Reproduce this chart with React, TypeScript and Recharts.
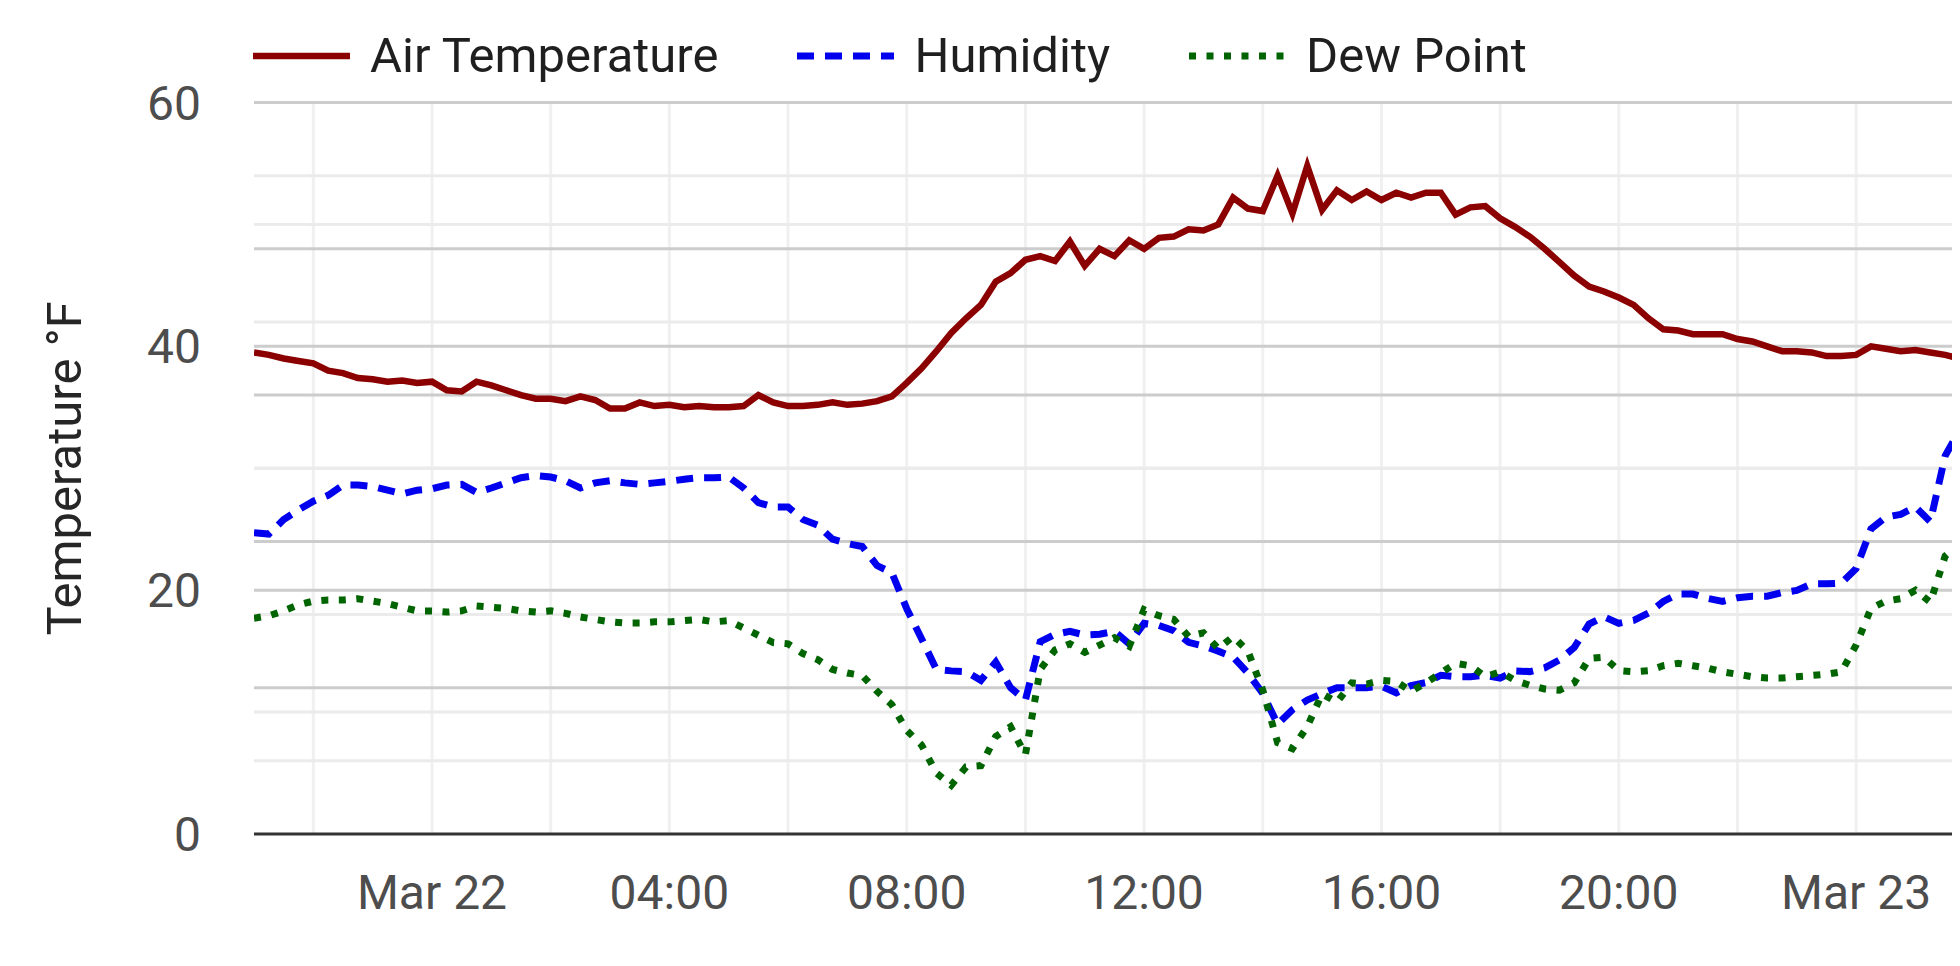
import React from 'react';
import { LineChart, Line, XAxis, YAxis, CartesianGrid, Legend } from 'recharts';

// Sampling: every 15 minutes starting Mar 21 21:00 (hours since start)
const STEP_HOURS = 0.25;

const airTemperature = [
  39.5, 39.3, 39.0, 38.8, 38.6, 38.0, 37.8, 37.4, 37.3, 37.1, 37.2, 37.0,
  37.1, 36.4, 36.3, 37.1, 36.8, 36.4, 36.0, 35.7, 35.7, 35.5, 35.9, 35.6,
  34.9, 34.9, 35.4, 35.1, 35.2, 35.0, 35.1, 35.0, 35.0, 35.1, 36.0, 35.4,
  35.1, 35.1, 35.2, 35.4, 35.2, 35.3, 35.5, 35.9, 37.0, 38.2, 39.6, 41.1,
  42.3, 43.4, 45.3, 46.0, 47.1, 47.4, 47.0, 48.6, 46.6, 48.0, 47.4, 48.7,
  48.0, 48.9, 49.0, 49.6, 49.5, 50.0, 52.2, 51.3, 51.1, 54.0, 50.9, 54.8,
  51.2, 52.8, 52.0, 52.7, 52.0, 52.6, 52.2, 52.6, 52.6, 50.8, 51.4, 51.5,
  50.5, 49.8, 49.0, 48.0, 46.9, 45.8, 44.9, 44.5, 44.0, 43.4, 42.3, 41.4,
  41.3, 41.0, 41.0, 41.0, 40.6, 40.4, 40.0, 39.6, 39.6, 39.5, 39.2, 39.2,
  39.3, 40.0, 39.8, 39.6, 39.7, 39.5, 39.3, 39.0,
];

// Relative humidity, % (right-hand axis, 0–100)
const humidity = [
  41.2, 41.0, 43.0, 44.3, 45.5, 46.3, 47.7, 47.7, 47.5, 47.0, 46.5, 47.0,
  47.2, 47.7, 47.8, 46.7, 47.3, 48.0, 48.7, 49.0, 48.8, 48.3, 47.3, 48.0,
  48.3, 48.0, 47.8, 48.0, 48.2, 48.5, 48.7, 48.7, 48.8, 47.3, 45.3, 44.7,
  44.7, 43.0, 42.2, 40.3, 39.7, 39.3, 36.7, 35.7, 30.8, 26.7, 22.5, 22.3,
  22.2, 21.0, 23.5, 20.0, 18.3, 26.3, 27.3, 27.7, 27.2, 27.3, 27.7, 26.0,
  28.8, 28.5, 27.8, 26.2, 25.7, 25.0, 24.2, 22.0, 19.2, 15.0, 17.0, 18.3,
  19.2, 20.0, 20.0, 20.0, 20.2, 19.3, 20.3, 20.7, 21.7, 21.5, 21.5, 21.7,
  21.3, 22.3, 22.2, 22.7, 23.8, 25.5, 28.7, 29.7, 28.8, 29.2, 30.2, 31.8,
  32.8, 32.8, 32.2, 31.8, 32.3, 32.5, 32.5, 33.0, 33.3, 34.2, 34.2, 34.3,
  36.3, 41.7, 43.3, 43.7, 44.7, 42.7, 51.7, 55.3,
];

const dewPoint = [
  17.7, 17.9, 18.3, 18.8, 19.1, 19.2, 19.2, 19.3, 19.1, 18.9, 18.6, 18.3,
  18.3, 18.2, 18.3, 18.7, 18.6, 18.5, 18.3, 18.2, 18.3, 18.1, 17.8, 17.6,
  17.4, 17.3, 17.3, 17.4, 17.4, 17.5, 17.6, 17.4, 17.5, 16.9, 16.3, 15.7,
  15.6, 14.8, 14.3, 13.5, 13.2, 13.0, 11.7, 10.6, 8.5, 7.3, 5.0, 4.0,
  5.5, 5.6, 8.0, 8.8, 6.5, 13.5, 15.1, 15.6, 14.9, 15.5, 16.1, 15.4,
  18.4, 17.9, 17.6, 16.2, 16.5, 15.2, 16.2, 15.0, 11.8, 7.5, 7.0, 8.8,
  11.5, 10.8, 12.4, 12.3, 12.6, 12.5, 11.7, 12.4, 13.2, 14.0, 13.8, 12.9,
  13.3, 12.6, 12.2, 11.9, 11.8, 12.4, 14.4, 14.5, 13.4, 13.3, 13.4, 13.8,
  14.0, 13.8, 13.6, 13.3, 13.1, 12.9, 12.8, 12.8, 12.9, 13.0, 13.1, 13.3,
  15.5, 18.5, 19.1, 19.3, 20.0, 19.0, 22.8, 23.9,
];

const xTickHours = [3, 7, 11, 15, 19, 23, 27];
const xTickLabels = ['Mar 22', '04:00', '08:00', '12:00', '16:00', '20:00', 'Mar 23'];
const xGridHours = [1, 3, 5, 7, 9, 11, 13, 15, 17, 19, 21, 23, 25, 27];
const xDomain = [0, 28.75];

const tempTicks = [0, 20, 40, 60];
const tempMajor = [20, 40, 60];
const tempMinor = [10, 30, 50];
const humMajor = [20, 40, 60, 80];
const humMinor = [10, 30, 50, 70, 90];

const seriesInfo = [
  { key: 'air', name: 'Air Temperature', color: '#8B0000', dash: undefined as string | undefined, width: 6.5 },
  { key: 'hum', name: 'Humidity', color: '#0000EE', dash: '17 11', width: 7 },
  { key: 'dew', name: 'Dew Point', color: '#006400', dash: '7 10.5', width: 7 },
];

const data = airTemperature.map((v, i) => ({
  t: i * STEP_HOURS,
  air: v,
  hum: humidity[i],
  dew: dewPoint[i],
}));

const FONT = 'Roboto, "Noto Sans", sans-serif';

const renderLegend = () => (
  <div
    style={{
      display: 'flex',
      alignItems: 'center',
      fontFamily: FONT,
      fontSize: 49,
      color: '#1f1f1f',
      lineHeight: '56px',
      whiteSpace: 'nowrap',
    }}
  >
    {seriesInfo.map((s) => (
      <div key={s.key} style={{ display: 'flex', alignItems: 'center', marginRight: 79 }}>
        <svg width={97} height={12} style={{ marginRight: 20 }}>
          <line
            x1={0}
            y1={6}
            x2={97}
            y2={6}
            stroke={s.color}
            strokeWidth={s.width}
            strokeDasharray={s.dash}
          />
        </svg>
        <span>{s.name}</span>
      </div>
    ))}
  </div>
);

export default function App() {
  const tickStyle = { fill: '#4d4d4d', fontSize: 48, fontFamily: FONT };
  return (
    <div style={{ width: 1952, height: 950, overflow: 'hidden' }}>
      <LineChart
        width={1952}
        height={950}
        data={data}
        margin={{ top: 94.5, right: 0, bottom: 0, left: 0 }}
      >
        <CartesianGrid
          xAxisId="x"
          yAxisId="temp"
          horizontal={false}
          verticalValues={xGridHours}
          stroke="#f0f0f0"
          strokeWidth={3}
        />
        <CartesianGrid
          xAxisId="x"
          yAxisId="temp"
          vertical={false}
          horizontalValues={tempMinor}
          stroke="#ebebeb"
          strokeWidth={3}
        />
        <CartesianGrid
          xAxisId="x"
          yAxisId="hum"
          vertical={false}
          horizontalValues={humMinor}
          stroke="#ebebeb"
          strokeWidth={3}
        />
        <CartesianGrid
          xAxisId="x"
          yAxisId="temp"
          vertical={false}
          horizontalValues={tempMajor}
          stroke="#cccccc"
          strokeWidth={3}
        />
        <CartesianGrid
          xAxisId="x"
          yAxisId="hum"
          vertical={false}
          horizontalValues={humMajor}
          stroke="#cccccc"
          strokeWidth={3}
        />
        <XAxis
          xAxisId="x"
          dataKey="t"
          type="number"
          domain={xDomain}
          ticks={xTickHours}
          interval={0}
          tickFormatter={(v: number) => xTickLabels[xTickHours.indexOf(v)] ?? ''}
          tick={tickStyle}
          tickLine={false}
          tickSize={0}
          tickMargin={41}
          axisLine={{ stroke: '#333333', strokeWidth: 3 }}
          height={124}
          allowDataOverflow
        />
        <YAxis
          yAxisId="temp"
          orientation="left"
          domain={[0, 60]}
          ticks={tempTicks}
          interval={0}
          width={246}
          tick={tickStyle}
          tickLine={false}
          tickSize={0}
          tickMargin={53}
          axisLine={false}
          label={{
            value: 'Temperature °F',
            angle: -90,
            position: 'center',
            dx: -67,
            fill: '#262626',
            fontSize: 49,
            fontFamily: FONT,
          }}
        />
        <YAxis yAxisId="hum" orientation="right" domain={[0, 100]} hide />
        <Legend
          layout="horizontal"
          verticalAlign="middle"
          align="center"
          wrapperStyle={{ top: 20, left: 245, width: 'auto' }}
          content={renderLegend}
        />
        <Line
          xAxisId="x"
          yAxisId="temp"
          dataKey="air"
          name="Air Temperature"
          type="linear"
          stroke="#8B0000"
          strokeWidth={6.5}
          dot={false}
          isAnimationActive={false}
        />
        <Line
          xAxisId="x"
          yAxisId="hum"
          dataKey="hum"
          name="Humidity"
          type="linear"
          stroke="#0000EE"
          strokeWidth={7}
          strokeDasharray="17 11"
          dot={false}
          isAnimationActive={false}
        />
        <Line
          xAxisId="x"
          yAxisId="temp"
          dataKey="dew"
          name="Dew Point"
          type="linear"
          stroke="#006400"
          strokeWidth={7}
          strokeDasharray="7 10.5"
          dot={false}
          isAnimationActive={false}
        />
      </LineChart>
    </div>
  );
}
